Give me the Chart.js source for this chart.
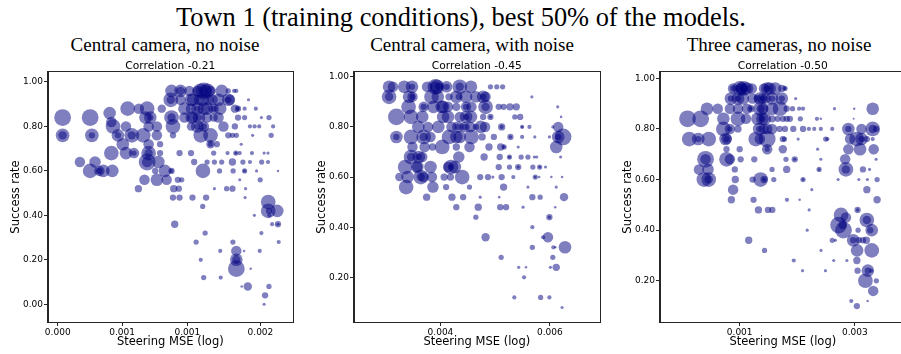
<!DOCTYPE html>
<html>
<head>
<meta charset="utf-8">
<script src="https://cdn.jsdelivr.net/npm/chart.js@4.4.1/dist/chart.umd.min.js"></script>
<style>
  html, body { margin: 0; padding: 0; background: #fff; }
  body { width: 901px; height: 354px; position: relative; overflow: hidden; }
  .suptitle, .subtitle { position: absolute; font-family: "Liberation Serif", "Times New Roman", serif; color: #000; white-space: nowrap; transform: translateX(-50%); }
  .suptitle { font-size: 26.4px; line-height: 26px; top: 4px; left: 461px; }
  .subtitle { font-size: 19px; line-height: 19px; top: 35px; }
  canvas { position: absolute; top: 55px; }
</style>
</head>
<body>
<div class="suptitle">Town 1 (training conditions), best 50% of the models.</div>
<div class="subtitle" style="left:165px">Central camera, no noise</div>
<div class="subtitle" style="left:472px">Central camera, with noise</div>
<div class="subtitle" style="left:779px">Three cameras, no noise</div>
<canvas id="c1" width="301" height="299" style="left:0px"></canvas>
<canvas id="c2" width="302" height="299" style="left:306px"></canvas>
<canvas id="c3" width="302" height="299" style="left:612px"></canvas>
<script>
// Each model: [log10 steering MSE, success rate, model weight (drives bubble size)]
const centralNoNoise = [
  [-3.043,.96,6],[-3.006,.96,6],[-3.006,.96,4],[-2.970,.96,5],[-2.937,.96,5],[-2.910,.96,8],[-2.906,.96,6],[-2.883,.96,5],[-2.837,.96,6],[-2.810,.96,2.5],[-2.786,.96,2],[-2.777,.96,2],
  [-2.925,.96,7],[-2.895,.96,7],
  [-3.046,.92,7],[-3.046,.92,4],[-3.006,.92,5],[-2.963,.92,6],[-2.930,.92,5],[-2.890,.92,5],[-2.850,.92,6],[-2.810,.92,6],[-2.810,.92,3],[-2.803,.92,5],[-2.727,.92,1.5],
  [-2.955,.92,6],[-2.915,.92,6],[-2.875,.92,5],
  [-3.223,.88,7],[-3.177,.88,5],[-3.143,.88,7],[-3.083,.88,4],[-2.990,.88,6],[-2.963,.88,5],[-2.937,.88,6],[-2.937,.88,3],[-2.897,.88,6],[-2.870,.88,5],[-2.870,.88,3],[-2.843,.88,6],[-2.783,.88,4],[-2.770,.88,3],[-2.770,.88,2],[-2.743,.88,2],[-2.697,.88,2],
  [-2.910,.88,6],
  [-3.297,.86,6],
  [-3.490,.84,8],[-3.377,.84,8],[-3.150,.84,6],[-3.130,.84,6],[-3.130,.84,3],[-3.043,.84,7],[-3.043,.84,4],[-2.990,.84,5],[-2.957,.84,5],[-2.930,.84,6],[-2.930,.84,3],[-2.897,.84,5],[-2.870,.84,4],[-2.770,.84,3],[-2.743,.84,2.5],[-2.674,.84,1.5],[-2.643,.84,2.5],
  [-2.850,.84,5],[-2.960,.84,6],
  [-3.290,.82,5],
  [-3.283,.80,7],[-3.230,.80,5],[-3.137,.80,5],[-3.103,.80,5],[-3.037,.80,7],[-2.963,.80,4],[-2.937,.80,6],[-2.937,.80,3],[-2.910,.80,5],[-2.910,.80,3],[-2.830,.80,5],[-2.783,.80,3],[-2.721,.80,2],[-2.702,.80,2],[-2.683,.80,2],[-2.626,.80,2],
  [-3.490,.76,6.5],[-3.490,.76,4],[-3.370,.76,6.5],[-3.370,.76,3],[-3.263,.76,6],[-3.263,.76,3],[-3.206,.76,7],[-3.206,.76,4],[-3.159,.76,7],[-3.103,.76,5],[-3.037,.76,3],[-2.923,.76,7],[-2.883,.76,7],[-2.810,.76,3],[-2.793,.76,2.5],[-2.777,.76,2.5],[-2.710,.76,1.5],[-2.634,.76,2.5],
  [-3.243,.72,6],[-3.137,.72,5],[-3.090,.72,3],[-2.883,.72,4],[-2.883,.72,2.5],[-2.857,.72,3],[-2.757,.72,1.5],
  [-3.290,.68,7],[-3.230,.68,6],[-3.197,.68,5],[-3.197,.68,2.5],[-3.137,.68,7],[-3.137,.68,4],[-3.090,.68,3],[-3.010,.68,3],[-2.963,.68,3],[-2.870,.68,2.5],[-2.813,.68,2],[-2.779,.68,2.5],[-2.779,.68,1.5],[-2.763,.68,2],[-2.713,.68,2],[-2.663,.68,1.5],[-2.647,.68,1.5],
  [-3.419,.64,5],[-3.357,.64,5.5],[-3.143,.64,8],[-3.143,.64,5],[-3.097,.64,6],[-2.950,.64,3],[-2.897,.64,2.5],[-2.867,.64,2.5],[-2.837,.64,2.5],[-2.793,.64,3.5],[-2.750,.64,2.5],[-2.721,.64,2],[-2.673,.64,2.5],[-2.647,.64,2],
  [-3.377,.60,7],[-3.339,.60,5],[-3.339,.60,3],[-3.323,.60,6],[-3.286,.60,6],[-3.110,.60,3],[-3.070,.60,6],[-3.043,.60,3],[-3.043,.60,2],[-2.914,.60,7],[-2.846,.60,2.5],[-2.790,.60,2.5],[-2.743,.60,2.5],[-2.743,.60,1.5],[-2.694,.60,1.5],[-2.606,.60,1.2],
  [-3.154,.56,5],[-3.103,.56,6],[-3.063,.56,5],[-3.017,.56,3],[-3.001,.56,2.5],[-2.763,.56,1.5],[-2.679,.56,2.5],
  [-3.179,.52,3.5],[-3.034,.52,3.5],[-3.013,.52,3],[-2.867,.52,1.5],[-2.817,.52,2.5],[-2.793,.52,3],[-2.739,.52,1.5],
  [-3.037,.48,3],[-3.010,.48,3],[-2.957,.48,3],[-2.901,.48,3],[-2.741,.48,1.5],
  [-2.646,.46,7],[-2.915,.44,2.5],[-2.646,.42,7],[-2.609,.42,6],[-2.643,.42,3],[-2.703,.40,1.5],[-2.641,.40,2],
  [-3.030,.36,3.5],[-2.630,.36,2],[-2.606,.36,3],[-2.606,.36,1.5],[-2.905,.32,2.5],[-2.674,.32,2],
  [-2.942,.28,2.5],[-2.791,.28,2.5],[-2.603,.28,2],[-2.843,.24,2],[-2.777,.24,5],[-2.745,.24,1.2],[-2.681,.24,2],
  [-2.923,.20,2],[-2.777,.20,6],[-2.777,.20,4],[-2.777,.16,8],[-2.718,.16,1.2],[-2.911,.12,2.5],[-2.841,.12,2],
  [-2.755,.08,1.2],[-2.730,.08,4],[-2.643,.08,2.5],[-2.659,.04,3],[-2.663,.00,1.5]
];

const centralWithNoise = [
  [-2.538,.96,6],[-2.530,.96,5],[-2.507,.96,6],[-2.491,.96,6],[-2.491,.96,3],[-2.460,.96,5],[-2.443,.96,7.5],[-2.443,.96,5],[-2.435,.96,4],[-2.420,.96,5.5],[-2.420,.96,3],[-2.393,.96,7],[-2.393,.96,4],[-2.370,.96,6],[-2.330,.96,2.5],[-2.317,.96,2.5],[-2.305,.96,2.5],
  [-2.440,.96,7],
  [-2.538,.92,7],[-2.538,.92,4],[-2.497,.92,6],[-2.490,.92,5],[-2.490,.92,3],[-2.451,.92,7],[-2.438,.92,6],[-2.415,.92,3.5],[-2.395,.92,3],[-2.380,.92,6],[-2.360,.92,5.5],[-2.345,.92,6],[-2.345,.92,3],[-2.340,.92,5],[-2.245,.92,1.5],
  [-2.400,.92,6],
  [-2.498,.88,7],[-2.467,.88,5],[-2.467,.88,3],[-2.447,.88,6],[-2.427,.88,6],[-2.417,.88,5],[-2.400,.88,4],[-2.380,.88,5],[-2.380,.88,3],[-2.369,.88,5],[-2.340,.88,7],[-2.340,.88,4],[-2.313,.88,3],[-2.303,.88,3],[-2.290,.88,3.5],[-2.277,.88,3.5],[-2.192,.88,1.5],
  [-2.430,.88,6],
  [-2.523,.84,8],[-2.493,.84,7],[-2.470,.84,6],[-2.427,.84,6],[-2.417,.84,6],[-2.393,.84,5],[-2.380,.84,6],[-2.380,.84,3],[-2.345,.84,3],[-2.330,.84,3],[-2.330,.84,1.5],[-2.280,.84,2.5],[-2.269,.84,3],[-2.185,.84,1.2],
  [-2.370,.84,6],
  [-2.478,.80,6],[-2.458,.80,5],[-2.437,.80,6],[-2.410,.80,5],[-2.397,.80,5.5],[-2.397,.80,3],[-2.383,.80,5],[-2.383,.80,3],[-2.371,.80,5],[-2.360,.80,3],[-2.341,.80,5],[-2.307,.80,3.5],[-2.307,.80,2],[-2.265,.80,2],[-2.265,.80,1.2],[-2.250,.80,2],[-2.202,.80,1.5],[-2.191,.80,5],
  [-2.350,.80,6],
  [-2.523,.76,6],[-2.523,.76,3],[-2.493,.76,7],[-2.467,.76,7],[-2.467,.76,4],[-2.453,.76,5],[-2.415,.76,7],[-2.393,.76,6],[-2.369,.76,7],[-2.347,.76,3.5],[-2.323,.76,3],[-2.289,.76,3],[-2.289,.76,1.5],[-2.265,.76,2],[-2.239,.76,1.5],[-2.209,.76,1.5],[-2.191,.76,6],[-2.191,.76,3],[-2.181,.76,8],
  [-2.400,.76,6],
  [-2.465,.72,5],[-2.449,.72,3.5],[-2.429,.72,7],[-2.400,.72,3.5],[-2.373,.72,5],[-2.333,.72,3.5],[-2.309,.72,3.5],[-2.302,.72,2.5],[-2.302,.72,1.5],[-2.273,.72,1.5],[-2.195,.72,6],
  [-2.490,.72,5],
  [-2.493,.68,7],[-2.493,.68,4],[-2.477,.68,6],[-2.477,.68,3],[-2.470,.68,5],[-2.395,.68,5.5],[-2.343,.68,3.5],[-2.311,.68,3],[-2.291,.68,2.5],[-2.291,.68,1.5],[-2.267,.68,2.5],[-2.253,.68,2.5],[-2.240,.68,1.5],[-2.235,.68,1.5],[-2.186,.68,1.5],
  [-2.505,.64,7],[-2.480,.64,6],[-2.453,.64,6],[-2.417,.64,5],[-2.411,.64,7],[-2.411,.64,3],[-2.403,.64,6],[-2.313,.64,3],[-2.291,.64,2.5],[-2.273,.64,3],[-2.273,.64,1.5],[-2.243,.64,2.5],[-2.229,.64,2.5],[-2.229,.64,1.2],[-2.217,.64,1.5],
  [-2.480,.64,5],
  [-2.517,.60,4],[-2.500,.60,6],[-2.473,.60,7],[-2.473,.60,4],[-2.467,.60,5],[-2.425,.60,3.5],[-2.412,.60,3.5],[-2.388,.60,7],[-2.351,.60,3],[-2.335,.60,3],[-2.325,.60,1.5],[-2.307,.60,3],[-2.283,.60,2],[-2.238,.60,2.5],[-2.238,.60,1.2],[-2.230,.60,1.2],[-2.205,.60,1.2],[-2.183,.60,1.2],
  [-2.450,.60,5],
  [-2.503,.56,7],[-2.448,.56,5.5],[-2.421,.56,3],[-2.373,.56,2.5],[-2.303,.56,3.5],[-2.253,.56,1.5],[-2.195,.56,1.5],
  [-2.461,.52,3.5],[-2.409,.52,3.5],[-2.386,.52,3],[-2.351,.52,1.5],[-2.312,.52,1.2],[-2.244,.52,3],[-2.228,.52,2.5],[-2.179,.52,4],
  [-2.400,.48,3],[-2.355,.48,3.5],[-2.310,.48,3],[-2.298,.48,3],[-2.263,.48,1.5],[-2.197,.48,1.2],
  [-2.360,.44,2.5],[-2.209,.44,3],[-2.209,.44,1.5],[-2.244,.40,2],
  [-2.340,.36,4],[-2.222,.36,2],[-2.212,.36,5],
  [-2.244,.32,2.5],[-2.201,.32,2],[-2.197,.32,1.2],[-2.177,.32,6],
  [-2.308,.28,2.5],[-2.202,.28,2.5],
  [-2.272,.24,1.5],[-2.257,.24,1.2],[-2.207,.24,1.5],[-2.195,.24,3.5],
  [-2.261,.20,2],[-2.281,.12,2],[-2.227,.12,2.5],[-2.209,.12,2],[-2.183,.08,1.5]
];

const threeCameras = [
  [-3.030,.96,5],[-3.030,.96,3],[-3.003,.96,7],[-3.003,.96,4],[-2.986,.96,7],[-2.986,.96,4],[-2.973,.96,6],[-2.953,.96,5],[-2.903,.96,5],[-2.890,.96,6],[-2.890,.96,3],[-2.857,.96,6],[-2.830,.96,3.5],[-2.817,.96,2.5],[-2.817,.96,1.5],
  [-2.995,.96,6],[-2.880,.96,6],
  [-3.039,.92,6],[-3.039,.92,3],[-3.010,.92,6],[-3.010,.92,3],[-2.990,.92,6],[-2.930,.92,3.5],[-2.910,.92,5],[-2.910,.92,2.5],[-2.897,.92,5],[-2.870,.92,6],[-2.870,.92,3],[-2.830,.92,6],[-2.830,.92,3],[-2.773,.92,1.5],
  [-2.920,.92,6],[-2.950,.92,5],
  [-3.137,.88,6],[-3.093,.88,5],[-3.043,.88,5],[-3.010,.88,5],[-2.973,.88,5],[-2.957,.88,3.5],[-2.957,.88,2],[-2.917,.88,7],[-2.917,.88,4],[-2.906,.88,5],[-2.870,.88,6],[-2.837,.88,7],[-2.810,.88,3],[-2.786,.88,2.5],[-2.759,.88,2],[-2.743,.88,2],[-2.614,.88,1.5],[-2.533,.88,1.2],[-2.457,.88,6],
  [-3.217,.84,8],[-3.163,.84,8],[-3.070,.84,6],[-3.010,.84,7],[-2.977,.84,5],[-2.930,.84,6],[-2.910,.84,6],[-2.910,.84,3],[-2.870,.84,3.5],[-2.847,.84,3],[-2.826,.84,3],[-2.810,.84,3],[-2.797,.84,3],[-2.754,.84,2.5],[-2.686,.84,2],[-2.670,.84,1.2],[-2.535,.84,1],
  [-2.900,.84,6],
  [-3.070,.80,7],[-3.043,.80,5],[-3.043,.80,2.5],[-3.010,.80,3.5],[-2.923,.80,6],[-2.923,.80,3],[-2.890,.80,5],[-2.870,.80,5],[-2.839,.80,3],[-2.817,.80,3],[-2.783,.80,3],[-2.743,.80,3],[-2.719,.80,2],[-2.697,.80,2],[-2.670,.80,2],[-2.623,.80,2],[-2.557,.80,6],[-2.557,.80,3],[-2.503,.80,5],[-2.457,.80,7],[-2.457,.80,4],[-2.443,.80,3],
  [-2.905,.80,5],
  [-3.210,.76,7],[-3.173,.76,6],[-3.173,.76,3],[-3.130,.76,7],[-3.061,.76,6],[-3.057,.76,5],[-3.057,.76,3],[-2.937,.76,7],[-2.890,.76,8],[-2.826,.76,3],[-2.819,.76,2.5],[-2.763,.76,1.5],[-2.650,.76,2.5],[-2.643,.76,2],[-2.550,.76,5],[-2.523,.76,7],[-2.503,.76,6],[-2.503,.76,3],[-2.481,.76,3],[-2.457,.76,2],
  [-2.920,.76,5],
  [-3.057,.72,3],[-3.003,.72,3],[-2.890,.72,5],[-2.890,.72,2.5],[-2.826,.72,4],[-2.683,.72,1.5],[-2.557,.72,5],[-2.509,.72,6],[-2.453,.72,5],
  [-3.143,.68,8],[-3.143,.68,5],[-3.057,.68,7],[-3.043,.68,5],[-2.999,.68,3],[-2.943,.68,3],[-2.813,.68,2.5],[-2.777,.68,3],[-2.777,.68,1.5],[-2.670,.68,1.5],[-2.570,.68,5],[-2.443,.68,1.5],
  [-3.170,.64,5],[-3.133,.64,5.5],[-3.023,.64,3],[-2.870,.64,2.5],[-2.810,.64,3.5],[-2.677,.64,2.5],[-2.677,.64,1.2],[-2.567,.64,7],[-2.567,.64,4],[-2.497,.64,3],[-2.470,.64,1.5],
  [-3.150,.60,7],[-3.130,.60,7],[-3.130,.60,4],[-3.021,.60,3.5],[-2.950,.60,3],[-2.917,.60,7],[-2.903,.60,3.5],[-2.903,.60,2],[-2.863,.60,2.5],[-2.743,.60,2.5],[-2.743,.60,1.2],[-2.599,.60,1.5],[-2.514,.60,1.5],[-2.479,.60,1.5],[-2.439,.60,2.5],
  [-3.030,.56,5],[-2.707,.56,1.5],[-2.481,.56,3.5],
  [-3.037,.52,3.5],[-2.946,.52,3],[-2.809,.52,2],[-2.757,.52,1.2],[-2.439,.52,3.5],
  [-2.926,.48,3.5],[-2.887,.48,3],[-2.869,.48,3],[-2.718,.48,1.5],[-2.519,.48,3],[-2.519,.48,1.5],
  [-2.587,.46,7],[-2.567,.45,5],[-2.481,.44,7],[-2.481,.44,4],[-2.597,.42,8],[-2.581,.42,4],
  [-2.577,.40,8],[-2.461,.40,6],[-2.726,.40,1.5],[-2.517,.40,2.5],[-2.467,.40,3],
  [-2.966,.36,3.5],[-2.623,.36,2.5],[-2.610,.36,1.5],[-2.537,.36,6],[-2.537,.36,3],[-2.514,.36,3],[-2.497,.36,3],[-2.483,.36,3.5],
  [-2.901,.32,2.5],[-2.669,.32,1.5],[-2.521,.32,6],[-2.461,.32,7],
  [-2.781,.28,2],[-2.617,.28,1.5],[-2.563,.28,1.5],[-2.522,.28,3.5],
  [-2.745,.24,1.5],[-2.651,.24,1.5],[-2.519,.24,3],[-2.477,.24,6],[-2.477,.24,3],[-2.463,.24,2],
  [-2.487,.20,7],[-2.442,.20,2.5],[-2.455,.16,5],[-2.545,.12,2],[-2.478,.12,1.2],[-2.522,.10,3]
];

// Axis ticks: positions on the log10 axis and the labels printed under them
const ticksXNoNoise = [-3.51, -3.246, -2.978, -2.678];
const labelsXNoNoise = ['0.000', '0.001', '0.001', '0.002'];
const ticksXNoise = [-2.4326, -2.208];
const labelsXNoise = ['0.004', '0.006'];
const ticksXThree = [-3.003, -2.53];
const labelsXThree = ['0.001', '0.003'];
const ticksYFull = [0, 0.2, 0.4, 0.6, 0.8, 1.0];
const ticksYUpper = [0.2, 0.4, 0.6, 0.8, 1.0];

const correlations = ['-0.21', '-0.45', '-0.50'];

const FONT = "'DejaVu Sans', Verdana, sans-serif";
const SPINE = '#262626';

// Frame on all four sides of the plot area, plus the panel heading centred on it
const framePlugin = {
  id: 'frame',
  afterDraw(chart, args, opts) {
    const { ctx, chartArea: a } = chart;
    ctx.save();
    ctx.strokeStyle = SPINE;
    ctx.lineWidth = 1;
    ctx.strokeRect(Math.round(a.left) - 0.5, Math.round(a.top) - 0.5,
                   Math.round(a.right - a.left) + 1, Math.round(a.bottom - a.top) + 1);
    ctx.fillStyle = '#000';
    ctx.font = '10.7px ' + FONT;
    ctx.textAlign = 'center';
    ctx.textBaseline = 'alphabetic';
    ctx.fillText(opts.text, (a.left + a.right) / 2, a.top - 3.5);
    ctx.restore();
  }
};

function makePanel(id, points, corr, xRange, xTicks, xLabels, yRange, yTicks) {
  const data = points.map(([x, y, w]) => ({ x, y, r: w * 1.05 }));
  return new Chart(document.getElementById(id), {
    type: 'bubble',
    data: {
      datasets: [{
        data,
        backgroundColor: 'rgba(0,0,128,0.5)',
        borderWidth: 0,
        hoverRadius: 0
      }]
    },
    options: {
      responsive: false,
      animation: false,
      devicePixelRatio: 1,
      events: [],
      layout: { padding: { left: 0, right: 2, top: 17, bottom: 0 } },
      plugins: {
        legend: { display: false },
        tooltip: { enabled: false },
        frame: { text: 'Correlation ' + corr }
      },
      scales: {
        x: {
          type: 'linear',
          min: xRange[0],
          max: xRange[1],
          afterBuildTicks: (axis) => { axis.ticks = xTicks.map(v => ({ value: v })); },
          afterFit: (axis) => { axis.height = 32; },
          ticks: {
            color: '#000',
            font: { family: FONT, size: 9 },
            padding: 1,
            maxRotation: 0,
            autoSkip: false,
            callback: (v, i) => xLabels[i]
          },
          grid: { drawOnChartArea: false, drawTicks: true, tickLength: 4, color: SPINE },
          border: { display: true, color: SPINE },
          title: {
            display: true,
            text: 'Steering MSE (log)',
            color: '#000',
            font: { family: FONT, size: 11.5 },
            padding: { top: 0, bottom: 5 }
          }
        },
        y: {
          type: 'linear',
          min: yRange[0],
          max: yRange[1],
          afterBuildTicks: (axis) => { axis.ticks = yTicks.map(v => ({ value: v })); },
          afterFit: (axis) => { axis.width = 48; },
          ticks: {
            color: '#000',
            font: { family: FONT, size: 9 },
            padding: 1,
            autoSkip: false,
            callback: (v) => Number(v).toFixed(2)
          },
          grid: { drawOnChartArea: false, drawTicks: true, tickLength: 4, color: SPINE },
          border: { display: true, color: SPINE },
          title: {
            display: true,
            text: 'Success rate',
            color: '#000',
            font: { family: FONT, size: 11.5 },
            padding: { top: 9, bottom: 0 }
          }
        }
      }
    },
    plugins: [framePlugin]
  });
}

makePanel('c1', centralNoNoise, correlations[0], [-3.55, -2.546], ticksXNoNoise, labelsXNoNoise, [-0.08, 1.045], ticksYFull);
makePanel('c2', centralWithNoise, correlations[1], [-2.61, -2.106], ticksXNoise, labelsXNoise, [0.022, 1.019], ticksYUpper);
makePanel('c3', threeCameras, correlations[2], [-3.33, -2.322], ticksXThree, labelsXThree, [0.037, 1.025], ticksYUpper);
</script>
</body>
</html>
